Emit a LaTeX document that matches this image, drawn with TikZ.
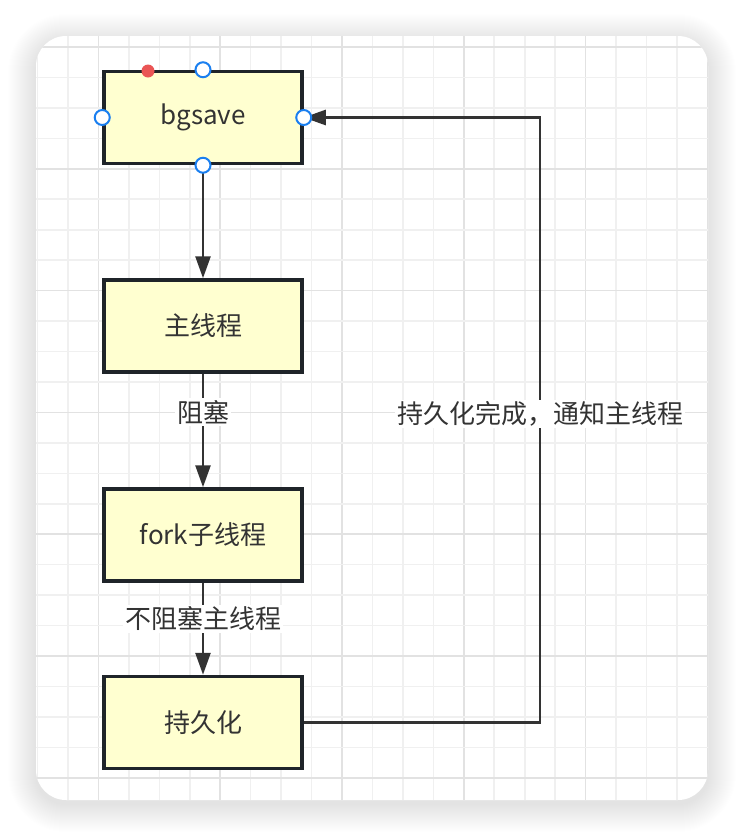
\documentclass[tikz,border=0pt]{standalone}
\usepackage{fontspec}
\setmainfont{Noto Sans CJK SC}
\usetikzlibrary{arrows.meta}
\begin{document}
\begin{tikzpicture}[x=1pt, y=-1pt, font=\fontsize{26}{31}\selectfont]
    % --- Colores y estilos ---
    \definecolor{boxfill}{HTML}{FFFFD0}
    \definecolor{boxline}{HTML}{1F2429}
    \definecolor{flowgray}{HTML}{333333}
    \definecolor{gridminor}{HTML}{F0F0F0}
    \definecolor{gridmajor}{HTML}{E2E2E2}
    \definecolor{handleblue}{HTML}{1A7FF0}
    \definecolor{handlered}{HTML}{EA5555}
    \tikzset{
        taskbox/.style={draw=boxline, line width=3.5pt, fill=boxfill, minimum width=198pt, minimum height=92pt, inner sep=0pt, text=flowgray},
        flow/.style={draw=flowgray, line width=2.6pt, -{Triangle[length=22pt, width=15pt]}},
        flowlabel/.style={fill=white, inner sep=2pt, text=flowgray},
        handle/.style={circle, draw=handleblue, line width=2pt, fill=white, minimum size=15pt, inner sep=0pt},
        reddot/.style={circle, fill=handlered, minimum size=13pt, inner sep=0pt}
    }
    \useasboundingbox (0,0) rectangle (746,836);

    % --- Sombra de la tarjeta ---
    \foreach \i in {1,...,28} {
        \fill[black, opacity=0.0055, rounded corners=30+\i] (36-\i,42-\i) rectangle (708+\i,804+\i);
    }

    % --- Tarjeta con cuadricula ---
    \fill[white, rounded corners=30] (36,36) rectangle (708,800);
    \begin{scope}
        \clip[rounded corners=30] (36,36) rectangle (708,800);
        \foreach \k in {0,...,22} {
            \pgfmathtruncatemacro{\m}{mod(\k,4)}
            \ifnum\m=2
                \draw[gridmajor, line width=1.6pt] (37.5+30.45*\k,36) -- (37.5+30.45*\k,800);
            \else
                \draw[gridminor, line width=1.6pt] (37.5+30.45*\k,36) -- (37.5+30.45*\k,800);
            \fi
        }
        \foreach \k in {0,...,24} {
            \pgfmathtruncatemacro{\m}{mod(\k,4)}
            \ifnum\m=0
                \draw[gridmajor, line width=1.6pt] (36,47+30.45*\k) -- (708,47+30.45*\k);
            \else
                \draw[gridminor, line width=1.6pt] (36,47+30.45*\k) -- (708,47+30.45*\k);
            \fi
        }
    \end{scope}

    % --- Cajas del flujo ---
    \node[taskbox] (bgsave)  at (203,117.5) {bgsave};
    \node[taskbox] (mainth)  at (203,326)   {主线程};
    \node[taskbox] (forkth)  at (203,535)   {fork子线程};
    \node[taskbox] (persist) at (203,722.5) {持久化};
    \coordinate (turn) at (540,400);

    % --- Conectores ---
    \draw[flow] (bgsave) -- (mainth);
    \draw[flow] (mainth) -- node[flowlabel, pos=0.34] (blocklbl) {阻塞} (forkth);
    \draw[flow] (forkth) -- node[flowlabel, pos=0.39] (noblocklbl) {不阻塞主线程} (persist);
    \draw[flow] (persist.east) -- (persist.east -| turn) -- node[flowlabel, pos=0.51] (donelbl) {持久化完成，通知主线程} (bgsave.east -| turn) -- (bgsave.east);

    % --- Marcas de seleccion ---
    \node[reddot] (rot) at (148,71) {};
    \foreach \a in {north, south, east, west} {
        \node[handle] (h-\a) at (bgsave.\a) {};
    }
\end{tikzpicture}
\end{document}
